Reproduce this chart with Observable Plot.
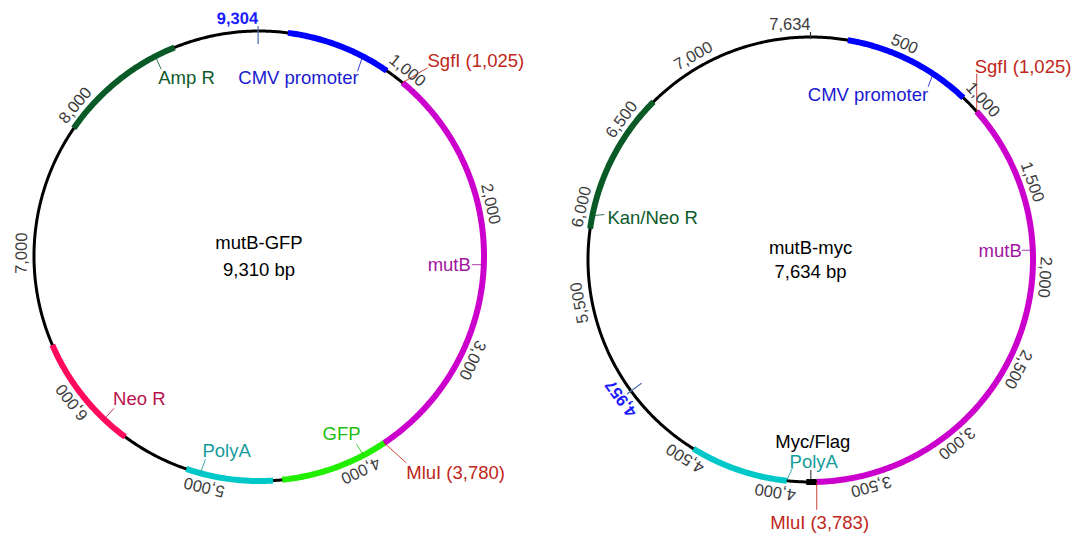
<!DOCTYPE html>
<html><head><meta charset="utf-8">
<script src="https://cdn.jsdelivr.net/npm/d3@7"></script>
<script src="https://cdn.jsdelivr.net/npm/@observablehq/plot@0.6"></script>
<style>body{margin:0;background:#fff}#chart svg{display:block}</style>
</head><body><div id="chart"></div>
<script>
// ---------------- data: mutB-GFP ----------------
const gfpName = "mutB-GFP";
const gfpLength = 9310;
const gfpFeatureNames = ["CMV promoter", "mutB", "GFP", "PolyA", "Neo R", "Amp R"];
const gfpFeatureStarts = [191, 1025, 3780, 4562, 5599, 7877];
const gfpFeatureEnds = [895, 3780, 4502, 5142, 6380, 8740];
const gfpTickLabels = [1000, 2000, 3000, 4000, 5000, 6000, 7000, 8000];
const gfpMarked = 9304;
const gfpSiteNames = ["SgfI", "MluI"];
const gfpSitePositions = [1025, 3780];

// ---------------- data: mutB-myc ----------------
const mycName = "mutB-myc";
const mycLength = 7634;
const mycFeatureNames = ["CMV promoter", "mutB", "Myc/Flag", "PolyA", "Kan/Neo R"];
const mycFeatureStarts = [205, 1025, 3783, 3947, 5895];
const mycFeatureEnds = [920, 3783, 3840, 4490, 6682];
const mycTickLabels = [500, 1000, 1500, 2000, 2500, 3000, 3500, 4000, 4500, 5500, 6000, 6500, 7000];
const mycMarked = 4957;
const mycSiteNames = ["SgfI", "MluI"];
const mycSitePositions = [1025, 3783];

// ---------------- styles / layout ----------------
const W = 1078, H = 538;
const FONT = "'Liberation Sans', Arial, sans-serif";
const LABEL_SIZE = 18.5, TICK_SIZE = 16.5, TITLE_SIZE = 18.5;
const arcColors = {"CMV promoter": "#0000ff", "mutB": "#cc00cc", "GFP": "#22ee00", "PolyA": "#00c8c8",
  "Neo R": "#ff0a5c", "Amp R": "#0a5a28", "Myc/Flag": "#000000", "Kan/Neo R": "#0a5a28"};
const textColors = {"CMV promoter": "#1a1ad0", "mutB": "#a0159e", "GFP": "#1fbf10", "PolyA": "#169c9c",
  "Neo R": "#b8124e", "Amp R": "#0e5a2b", "Myc/Flag": "#000000", "Kan/Neo R": "#0e5a2b", "site": "#c0261a"};
const fmt = d3.format(",");

const maps = [
  {name: gfpName, length: gfpLength, cx: 258.5, cy: 255.5, R: 225,
   names: gfpFeatureNames, starts: gfpFeatureStarts, ends: gfpFeatureEnds,
   ticks: gfpTickLabels, marked: gfpMarked, markedAnchor: "end", endLabel: false,
   siteNames: gfpSiteNames, sites: gfpSitePositions,
   labels: [
     {key: "Amp R", bp: 8600, lead: [6, 13], pos: [3, 22], anchor: "start"},
     {key: "CMV promoter", bp: 709, lead: [-5, 15], pos: [-4, 22], anchor: "end"},
     {key: "site0", lead: [25, -15], pos: [25, -22], anchor: "start"},
     {key: "mutB", bp: 2385, lead: [-12, 0], pos: [-13, 0], anchor: "end"},
     {key: "GFP", bp: 3939, lead: [-7, -11], pos: [-3, -21], anchor: "end"},
     {key: "site1", lead: [22, 20], pos: [22, 30], anchor: "start"},
     {key: "PolyA", bp: 5045, lead: [5, -14], pos: [2, -22], anchor: "start"},
     {key: "Neo R", bp: 5780, lead: [10, -11], pos: [9, -20], anchor: "start"}
   ], title: [-13, 14]},
  {name: mycName, length: mycLength, cx: 810, cy: 259, R: 222.5,
   names: mycFeatureNames, starts: mycFeatureStarts, ends: mycFeatureEnds,
   ticks: mycTickLabels, marked: mycMarked, markedAnchor: "middle", endLabel: true,
   siteNames: mycSiteNames, sites: mycSitePositions,
   labels: [
     {key: "CMV promoter", bp: 709, lead: [-5, 13], pos: [-5, 21], anchor: "end"},
     {key: "site0", lead: [0, -38], pos: [-2, -45], anchor: "start"},
     {key: "mutB", bp: 1858, lead: [-11, 0], pos: [-11, 1], anchor: "end"},
     {key: "Kan/Neo R", bp: 5967, lead: [12, -1], pos: [15, 3], anchor: "start"},
     {key: "Myc/Flag", bp: 3815, lead: [0, -12], pos: [2, -40], anchor: "middle"},
     {key: "PolyA", bp: 3948, lead: [6, -13], pos: [3, -19], anchor: "start"},
     {key: "site1", lead: [0, 28], pos: [3, 41], anchor: "middle"}
   ], title: [-11, 13]}
];

function pt(m, bp, dr = 0) {
  const a = bp / m.length * 2 * Math.PI;
  return [m.cx + (m.R + dr) * Math.sin(a), m.cy - (m.R + dr) * Math.cos(a)];
}
function arc(m, s, e, id, extra) {
  const n = Math.max(2, Math.ceil((e - s) / m.length * 720));
  const out = [];
  for (let i = 0; i <= n; i++) {
    const [x, y] = pt(m, s + (e - s) * i / n);
    out.push({x, y, id, ...extra});
  }
  return out;
}

const backbone = [], arcs = [], tickText = [], endText = [], markedText = [], markedTicks = [],
  leaders = [], labelRows = [], titles = [];
for (const m of maps) {
  backbone.push(...arc(m, 0, m.length, m.name));
  m.names.forEach((nm, i) => arcs.push(...arc(m, m.starts[i], m.ends[i], m.name + nm, {color: arcColors[nm]})));
  for (const t of m.ticks) {
    const [x, y] = pt(m, t, 12.5);
    tickText.push({x, y, text: fmt(t), rot: t / m.length * 360});
  }
  if (m.endLabel) {
    const [x, y] = pt(m, m.length, 12.5);
    endText.push({x, y, text: fmt(m.length), rot: 0});
    const [x1, y1] = pt(m, m.length, -2), [x2, y2] = pt(m, m.length, 5);
    markedTicks.push({x1, y1, x2, y2, color: "#333"});
  }
  {
    const [x, y] = pt(m, m.marked, 12.5);
    markedText.push({x, y, text: fmt(m.marked), rot: m.marked / m.length * 360, anchor: m.markedAnchor});
    const [x1, y1] = pt(m, m.marked, -13), [x2, y2] = pt(m, m.marked, 5);
    markedTicks.push({x1, y1, x2, y2, color: "#4d6fb0"});
  }
  for (const L of m.labels) {
    let bp = L.bp, text = L.key, color = textColors[L.key];
    if (L.key.startsWith("site")) {
      const i = +L.key.slice(4);
      bp = m.sites[i];
      text = `${m.siteNames[i]} (${fmt(m.sites[i])})`;
      color = textColors.site;
    }
    const [x, y] = pt(m, bp);
    leaders.push({x1: x, y1: y, x2: x + L.lead[0], y2: y + L.lead[1], color});
    labelRows.push({x: x + L.pos[0], y: y + L.pos[1], text, color, anchor: L.anchor});
  }
  titles.push({x: m.cx, y: m.cy + m.title[0], text: m.name});
  titles.push({x: m.cx, y: m.cy + m.title[1], text: `${fmt(m.length)} bp`});
}

const labelMarks = ["start", "middle", "end"].map(a => Plot.text(labelRows.filter(d => d.anchor === a), {
  x: "x", y: "y", text: "text", fill: "color", textAnchor: a, lineAnchor: "middle", fontSize: LABEL_SIZE
}));

const chart = Plot.plot({
  width: W, height: H, margin: 0,
  x: {type: "identity", axis: null}, y: {type: "identity", axis: null},
  color: {type: "identity"},
  style: {fontFamily: FONT, background: "#fff"},
  marks: [
    Plot.line(backbone, {x: "x", y: "y", z: "id", stroke: "#000", strokeWidth: 3, curve: "linear"}),
    Plot.line(arcs, {x: "x", y: "y", z: "id", stroke: "color", strokeWidth: 6, strokeLinecap: "butt", curve: "linear"}),
    Plot.link(leaders, {x1: "x1", y1: "y1", x2: "x2", y2: "y2", stroke: "color", strokeWidth: 1, strokeOpacity: 0.85}),
    Plot.link(markedTicks, {x1: "x1", y1: "y1", x2: "x2", y2: "y2", stroke: "color", strokeWidth: 1.2}),
    Plot.text(tickText, {x: "x", y: "y", text: "text", rotate: "rot", fill: "#3c3c3c", fontSize: TICK_SIZE, lineAnchor: "middle"}),
    Plot.text(endText, {x: "x", y: "y", text: "text", rotate: "rot", fill: "#3c3c3c", fontSize: TICK_SIZE, lineAnchor: "middle", textAnchor: "end"}),
    Plot.text(markedText.filter(d => d.anchor === "end"), {x: "x", y: "y", text: "text", rotate: "rot", fill: "#1a1aff", fontSize: TICK_SIZE, fontWeight: "bold", lineAnchor: "middle", textAnchor: "end"}),
    Plot.text(markedText.filter(d => d.anchor === "middle"), {x: "x", y: "y", text: "text", rotate: "rot", fill: "#1a1aff", fontSize: TICK_SIZE, fontWeight: "bold", lineAnchor: "middle"}),
    ...labelMarks,
    Plot.text(titles, {x: "x", y: "y", text: "text", fill: "#000", fontSize: TITLE_SIZE, lineAnchor: "middle"})
  ]
});
document.getElementById("chart").append(chart);
</script>
</body></html>
